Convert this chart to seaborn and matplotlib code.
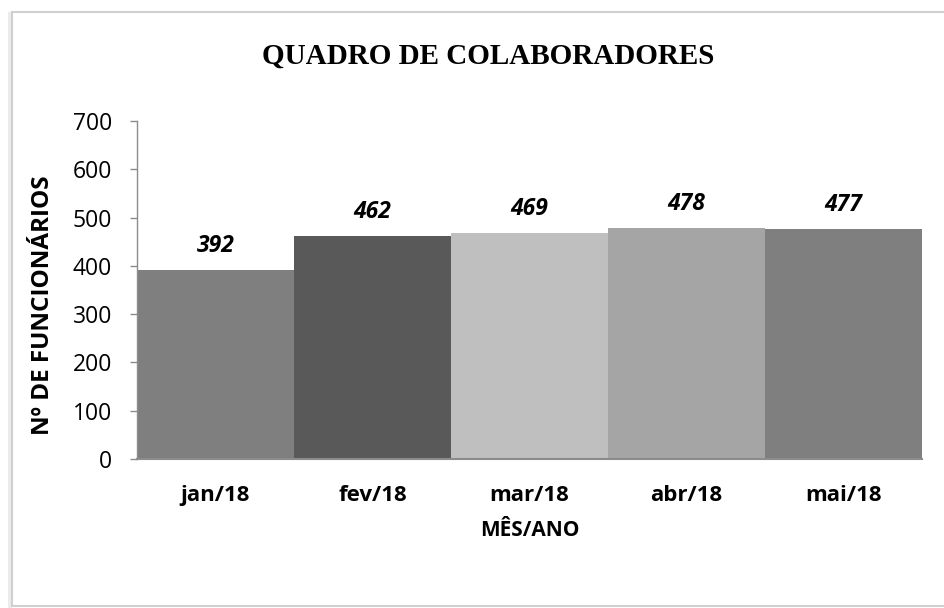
import matplotlib
matplotlib.use("Agg")
import matplotlib.pyplot as plt
import seaborn as sns
import pandas as pd
from matplotlib.patches import Rectangle

# Data
meses = ["jan/18", "fev/18", "mar/18", "abr/18", "mai/18"]
funcionarios = [392, 462, 469, 478, 477]
cores = ["#7f7f7f", "#595959", "#bfbfbf", "#a5a5a5", "#7f7f7f"]
yticks = [0, 100, 200, 300, 400, 500, 600, 700]

sns.set_theme(style="white")
plt.rcParams["font.family"] = ["Open Sans", "DejaVu Sans"]

df = pd.DataFrame({"mes": meses, "n": funcionarios})

fig = plt.figure(figsize=(9.44, 6.08), dpi=100)
fig.patch.set_facecolor("white")

# frame around the chart, with a soft shadow on the left
fig.patches.append(Rectangle((8 / 944, 0), 4 / 944, 596 / 608, transform=fig.transFigure,
                             facecolor="#ececec", edgecolor="none", zorder=-3))
fig.patches.append(Rectangle((12 / 944, 2 / 608), 940 / 944, 594 / 608, transform=fig.transFigure,
                             facecolor="white", edgecolor="#d0d0d0", linewidth=1.5, zorder=-2))

ax = fig.add_axes([137 / 944, (608 - 459) / 608, (922 - 137) / 944, (459 - 121) / 608])
ax.set_facecolor("none")

sns.barplot(data=df, x="mes", y="n", hue="mes", palette=cores, legend=False,
            width=1.0, saturation=1, linewidth=0, ax=ax)

for i, v in enumerate(funcionarios):
    ax.text(i, v + 37, str(v), ha="center", va="baseline", fontsize=16.5,
            fontweight="bold", fontstyle="italic", color="black")

ax.set_ylim(0, 700)
ax.set_xlim(-0.5, 4.5)
ax.set_yticks(yticks)
ax.set_yticklabels([str(t) for t in yticks], fontsize=16.5, color="black")
ax.set_xticks(range(len(meses)))
ax.set_xticklabels(meses, fontsize=16, fontweight="bold", color="black")
ax.tick_params(axis="y", left=True, direction="out", length=5, width=1, color="#8c8c8c", pad=13)
ax.tick_params(axis="x", bottom=False, pad=13)

for s in ["top", "right"]:
    ax.spines[s].set_visible(False)
ax.spines["left"].set_color("#8c8c8c")
ax.spines["bottom"].set_color("#8c8c8c")
ax.spines["left"].set_linewidth(1)
ax.spines["bottom"].set_linewidth(1.5)

ax.set_xlabel("MÊS/ANO", fontsize=15, fontweight="bold", color="black")
ax.xaxis.set_label_coords(0.5, -0.18)
ax.set_ylabel("Nº DE FUNCIONÁRIOS", fontsize=17.5, fontweight="bold", color="black")
ax.yaxis.set_label_coords(-0.105, 0.456)

fig.text(488 / 944, 1 - 56 / 608, "QUADRO DE COLABORADORES", ha="center", va="center",
         fontsize=21, fontweight="bold", family=["Liberation Serif", "DejaVu Serif"], color="black")

fig.savefig("out.png", dpi=100)
